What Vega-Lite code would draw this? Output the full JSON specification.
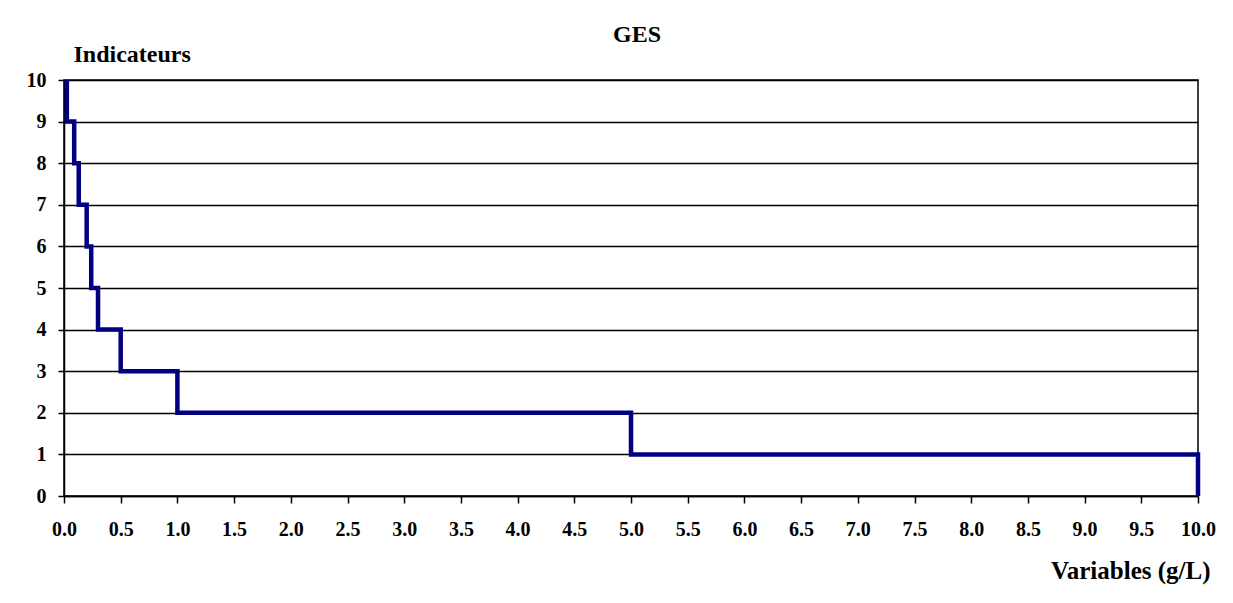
{
  "$schema": "https://vega.github.io/schema/vega-lite/v6.json",
  "width": 1134,
  "height": 416,
  "autosize": {"type": "none"},
  "padding": {"left": 64, "top": 80, "right": 35, "bottom": 107},
  "background": "white",
  "title": {
    "text": "GES",
    "font": "Liberation Serif",
    "fontSize": 24,
    "fontWeight": "bold",
    "color": "black",
    "anchor": "middle",
    "frame": "group",
    "dx": 6,
    "offset": -24,
    "baseline": "alphabetic"
  },
  "data": {
    "values": [
      {"variable": 0.025, "indicateur": 10},
      {"variable": 0.09, "indicateur": 9},
      {"variable": 0.13, "indicateur": 8},
      {"variable": 0.2, "indicateur": 7},
      {"variable": 0.24, "indicateur": 6},
      {"variable": 0.3, "indicateur": 5},
      {"variable": 0.5, "indicateur": 4},
      {"variable": 1, "indicateur": 3},
      {"variable": 5, "indicateur": 2},
      {"variable": 10, "indicateur": 1},
      {"variable": 10, "indicateur": 0}
    ]
  },
  "mark": {"type": "line", "interpolate": "step-before", "color": "#000080", "strokeWidth": 4.5, "clip": false},
  "encoding": {
    "x": {
      "field": "variable",
      "type": "quantitative",
      "scale": {"domain": [0, 10], "nice": false, "zero": true},
      "axis": {
        "values": [0, 0.5, 1, 1.5, 2, 2.5, 3, 3.5, 4, 4.5, 5, 5.5, 6, 6.5, 7, 7.5, 8, 8.5, 9, 9.5, 10],
        "format": ".1f",
        "grid": false,
        "labelFont": "Liberation Serif",
        "labelFontSize": 20,
        "labelFontWeight": "bold",
        "labelColor": "black",
        "labelFlush": false,
        "labelOverlap": false,
        "labelPadding": 16,
        "tickColor": "black",
        "tickSize": 7,
        "tickWidth": 1.5,
        "domainColor": "black",
        "domainWidth": 1.5,
        "title": "Variables (g/L)",
        "titleFont": "Liberation Serif",
        "titleFontSize": 25,
        "titleFontWeight": "bold",
        "titleColor": "black",
        "titleAlign": "right",
        "titleBaseline": "alphabetic",
        "titleX": 1146,
        "titleY": 82
      }
    },
    "y": {
      "field": "indicateur",
      "type": "quantitative",
      "scale": {"domain": [0, 10], "nice": false},
      "axis": {
        "values": [0, 1, 2, 3, 4, 5, 6, 7, 8, 9, 10],
        "grid": true,
        "gridColor": "black",
        "gridWidth": 1.3,
        "gridOpacity": 1,
        "labelFont": "Liberation Serif",
        "labelFontSize": 20,
        "labelFontWeight": "bold",
        "labelColor": "black",
        "labelFlush": false,
        "labelOverlap": false,
        "labelPadding": 12,
        "tickColor": "black",
        "tickSize": 6,
        "tickWidth": 1.5,
        "domainColor": "black",
        "domainWidth": 1.5,
        "title": "Indicateurs",
        "titleFont": "Liberation Serif",
        "titleFontSize": 24,
        "titleFontWeight": "bold",
        "titleColor": "black",
        "titleAngle": 0,
        "titleAlign": "left",
        "titleBaseline": "alphabetic",
        "titleX": 9,
        "titleY": -19
      }
    },
    "order": {"field": "indicateur", "sort": "descending"}
  },
  "config": {
    "view": {"stroke": "black", "strokeWidth": 1.5}
  }
}
